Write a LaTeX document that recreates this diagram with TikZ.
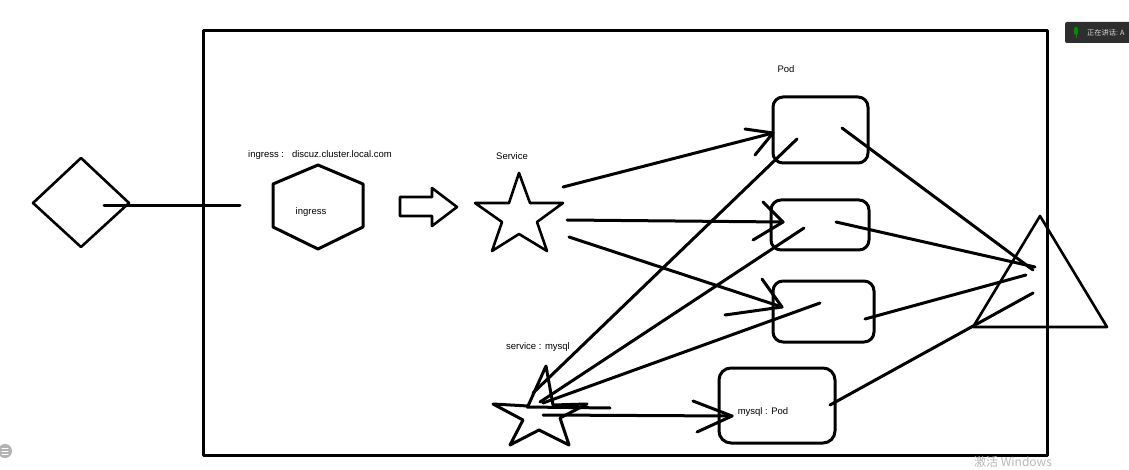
\documentclass[tikz,border=0pt]{standalone}
\usepackage{fontspec}
\setmainfont{Liberation Sans}
\newfontfamily\cjk{Noto Sans CJK SC}
\begin{document}
\begin{tikzpicture}[x=1pt,y=-1pt,line join=round,line cap=round,
  ink/.style={line width=3pt},
  inkthin/.style={line width=2.6pt},
  pod/.style={draw,line width=3pt,rounded corners=10pt,inner sep=0pt,outer sep=0pt},
  lbl/.style={font=\fontsize{9.5}{11}\selectfont,inner sep=0pt}]
\useasboundingbox (0,0) rectangle (1129,470);
\fill[white] (0,0) rectangle (1129,470);

% frame
\coordinate (fTL) at (203,31);
\coordinate (fBR) at (1047,455);
\draw[ink] (fTL) rectangle (fBR);

% diamond
\coordinate (dL) at (33,203); \coordinate (dT) at (81,158);
\coordinate (dR) at (129,203); \coordinate (dB) at (81,247);
\draw[inkthin] (dL)--(dT)--(dR)--(dB)--cycle;
\coordinate (dLine) at (104,206); \coordinate (hLine) at (240,206);
\draw[ink] (dLine) -- (hLine);

% hexagon ingress
\coordinate (h1) at (318,165); \coordinate (h2) at (363,184); \coordinate (h3) at (363,227);
\coordinate (h4) at (318,249); \coordinate (h5) at (273,227); \coordinate (h6) at (273,184);
\draw[ink] (h1)--(h2)--(h3)--(h4)--(h5)--(h6)--cycle;
\node[lbl] (ingtext) at (311,212) {ingress};
\node[lbl] (ingtitle) at (320,155) {ingress :\ \ \ discuz.cluster.local.com};

% block arrow
\draw[inkthin] (400,197)--(432,197)--(432,188)--(457,207)--(432,226)--(432,216)--(400,216)--cycle;

% Service star
\node[lbl] (svclbl) at (512,156) {Service};
\coordinate (sa1) at (519,173); \coordinate (sa2) at (530,203); \coordinate (sa3) at (563,203);
\coordinate (sa4) at (537,222); \coordinate (sa5) at (547,251); \coordinate (sa6) at (519,234);
\coordinate (sa7) at (492,251); \coordinate (sa8) at (502,222); \coordinate (sa9) at (475,203);
\coordinate (sa10) at (509,203);
\draw[inkthin] (sa1)--(sa2)--(sa3)--(sa4)--(sa5)--(sa6)--(sa7)--(sa8)--(sa9)--(sa10)--cycle;

% mysql star
\node[lbl] (mslbl) at (538,347) {service : mysql};
\coordinate (sb1) at (546,366); \coordinate (sb2) at (553,405); \coordinate (sb3) at (587,404);
\coordinate (sb4) at (560,418); \coordinate (sb5) at (569,445); \coordinate (sb6) at (539,430);
\coordinate (sb7) at (510,445); \coordinate (sb8) at (523,420); \coordinate (sb9) at (493,404);
\coordinate (sb10) at (528,406);
\draw[ink] (sb1)--(sb2)--(sb3)--(sb4)--(sb5)--(sb6)--(sb7)--(sb8)--(sb9)--(sb10)--cycle;
\coordinate (sbx1) at (527,407); \coordinate (sbx2) at (610,408);
\draw[ink] (sbx1)--(sbx2);

% pods
\node[lbl] (podlbl) at (786,69) {Pod};
\node[pod,minimum width=95pt,minimum height=66pt] (pod1) at (820.5,130) {};
\node[pod,minimum width=98pt,minimum height=50pt] (pod2) at (820,225) {};
\node[pod,minimum width=101pt,minimum height=61pt] (pod3) at (823.5,311.5) {};
\node[pod,rounded corners=12pt,minimum width=116pt,minimum height=75pt] (mpod) at (777,405.5) {};
\node[lbl] (mpodlbl) at (763,412) {mysql : Pod};

% triangle
\coordinate (t1) at (1040,216); \coordinate (t2) at (1107,327); \coordinate (t3) at (973,327);
\draw[inkthin] (t1)--(t2)--(t3)--cycle;

% Service -> pods (hand drawn arrows)
\coordinate (c1s) at (563,187); \coordinate (c1t) at (773,133);
\coordinate (c1a) at (745,129); \coordinate (c1b) at (755,155);
\draw[ink] (c1s)--(c1t); \draw[ink] (c1a)--(c1t)--(c1b);
\coordinate (c2s) at (567,220); \coordinate (c2t) at (783,222);
\coordinate (c2a) at (763,202); \coordinate (c2b) at (753,240);
\draw[ink] (c2s)--(c2t); \draw[ink] (c2a)--(c2t)--(c2b);
\coordinate (c3s) at (569,237); \coordinate (c3t) at (782,307);
\coordinate (c3a) at (762,279); \coordinate (c3b) at (725,315);
\draw[ink] (c3s)--(c3t); \draw[ink] (c3a)--(c3t)--(c3b);

% pods -> mysql service
\coordinate (m1s) at (797,139); \coordinate (m1t) at (533,393);
\coordinate (m2s) at (804,228); \coordinate (m2t) at (540,402);
\coordinate (m3s) at (820,303); \coordinate (m3t) at (543,403);
\draw[ink] (m1s)--(m1t);
\draw[ink] (m2s)--(m2t);
\draw[ink] (m3s)--(m3t);

% mysql service -> mysql pod
\coordinate (m4s) at (543,415); \coordinate (m4t) at (732,416);
\coordinate (m4a) at (693,401); \coordinate (m4b) at (697,432);
\draw[ink] (m4s)--(m4t); \draw[ink] (m4a)--(m4t)--(m4b);

% pods -> triangle
\coordinate (p1s) at (842,128); \coordinate (p1t) at (1033,270);
\coordinate (p2s) at (836,222); \coordinate (p2t) at (1035,267);
\coordinate (p3s) at (865,319); \coordinate (p3t) at (1026,275);
\coordinate (p4s) at (830,405); \coordinate (p4t) at (1033,293);
\draw[ink] (p1s)--(p1t);
\draw[ink] (p2s)--(p2t);
\draw[ink] (p3s)--(p3t);
\draw[ink] (p4s)--(p4t);

% screen overlays
\fill[black!82,rounded corners=2pt] (1065,22) rectangle (1140,43);
\fill[green!55!black,rounded corners=1.5pt] (1074,27) rectangle (1078,35);
\draw[green!55!black,line width=0.8pt] (1076,35)--(1076,38);
\node[anchor=west,inner sep=0pt,text=white!85!black,font=\cjk\fontsize{7.2}{8}\selectfont] (talk) at (1087,32.5) {正在讲话: A};
\fill[black!30] (5,451) circle (7);
\draw[white,line width=1pt] (2,448)--(8,448) (2,451)--(8,451) (2,454)--(8,454);
\node[anchor=west,inner sep=0pt,text=black!28,font=\cjk\fontsize{12}{13}\selectfont] (wm) at (974,461.5) {激活 Windows};
\end{tikzpicture}
\end{document}
